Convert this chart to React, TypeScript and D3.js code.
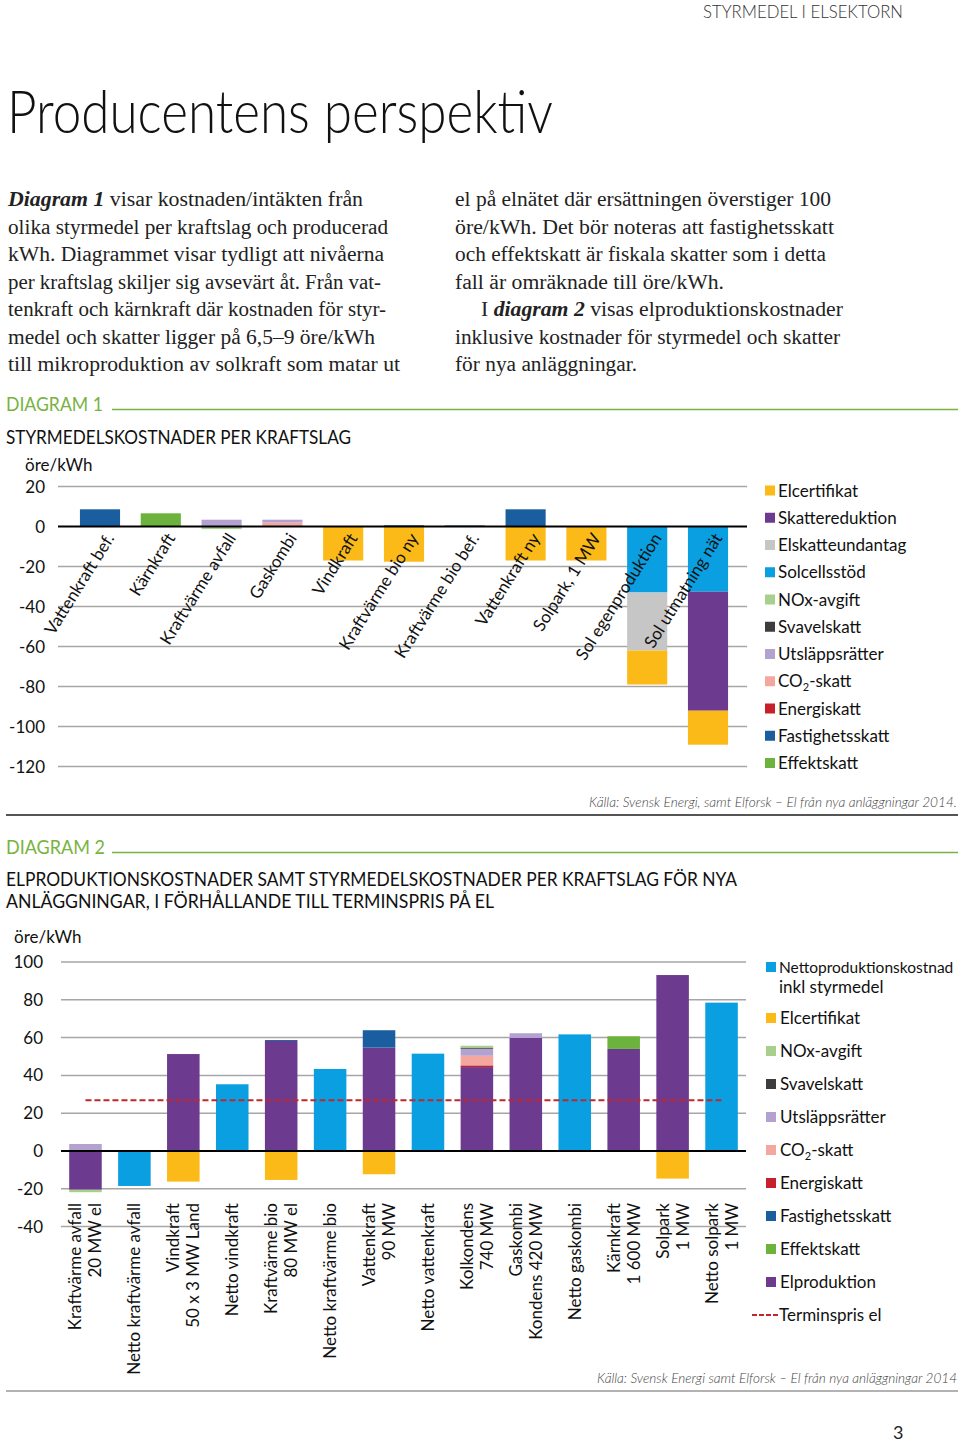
import React from "react";
import * as d3 from "d3";

const FONT = "Lato, 'Open Sans', sans-serif";
const SERIF = "'Liberation Serif', 'DejaVu Serif', serif";

// ---------- Diagram 1 data ----------
const d1Categories = [
  "Vattenkraft bef.",
  "Kärnkraft",
  "Kraftvärme avfall",
  "Gaskombi",
  "Vindkraft",
  "Kraftvärme bio ny",
  "Kraftvärme bio bef.",
  "Vattenkraft ny",
  "Solpark, 1 MW",
  "Sol egenproduktion",
  "Sol utmatning nät",
];
const d1Solcellsstod = [0, 0, 0, 0, 0, 0, 0, 0, 0, -33, -32.6];
const d1Skattereduktion = [0, 0, 0, 0, 0, 0, 0, 0, 0, 0, -59.5];
const d1Elskatteundantag = [0, 0, 0, 0, 0, 0, 0, 0, 0, -29, 0];
const d1Elcertifikat = [0, 0, 0, 0, -17, -17.6, 0, -17, -17, -17, -17];
const d1CO2skatt = [0, 0, 0, 2, 0, 0, 0, 0, 0, 0, 0];
const d1Utslappsratter = [0, 0, 3.4, 1.4, 0, 0, 0, 0, 0, 0, 0];
const d1NOx = [0, 0, -1.3, 0, 0, 0, 0, 0, 0, 0, 0];
const d1Svavelskatt = [0, 0, 0, 0, 0, 0, 0, 0, 0, 0, 0];
const d1Energiskatt = [0, 0, 0, 0, 0, 0, 0, 0, 0, 0, 0];
const d1Fastighetsskatt = [8.6, 0, 0, 0, 0, 0.6, 0.5, 8.6, 0, 0, 0];
const d1Effektskatt = [0, 6.6, 0, 0, 0, 0, 0, 0, 0, 0, 0];
const d1Ticks = [20, 0, -20, -40, -60, -80, -100, -120];

// ---------- Diagram 2 data ----------
const d2Categories = [
  ["Kraftvärme avfall", "20 MW el"],
  ["Netto kraftvärme avfall"],
  ["Vindkraft", "50 x 3 MW Land"],
  ["Netto vindkraft"],
  ["Kraftvärme bio", "80 MW el"],
  ["Netto kraftvärme bio"],
  ["Vattenkraft", "90 MW"],
  ["Netto vattenkraft"],
  ["Kolkondens", "740 MW"],
  ["Gaskombi", "Kondens 420 MW"],
  ["Netto gaskombi"],
  ["Kärnkraft", "1 600 MW"],
  ["Solpark", "1 MW"],
  ["Netto solpark", "1 MW"],
];
const d2Netto = [0, -18.5, 0, 35.3, 0, 43.4, 0, 51.5, 0, 0, 61.7, 0, 0, 78.5];
const d2Elproduktion = [-20.5, 0, 51.3, 0, 58.2, 0, 54.7, 0, 44.4, 59.8, 0, 54, 93.1, 0];
const d2Energiskatt = [0, 0, 0, 0, 0, 0, 0, 0, 0.9, 0, 0, 0, 0, 0];
const d2CO2skatt = [0, 0, 0, 0, 0, 0, 0, 0, 5.1, 0, 0, 0, 0, 0];
const d2Utslappsratter = [3.7, 0, 0, 0, 0, 0, 0, 0, 3.7, 2.5, 0, 0, 0, 0];
const d2Svavelskatt = [0, 0, 0, 0, 0, 0, 0, 0, 0.6, 0, 0, 0, 0, 0];
const d2NOx = [-1.3, 0, 0, 0, 0, 0, 0, 0, 1.0, 0, 0, 0, 0, 0];
const d2Fastighetsskatt = [0, 0, 0, 0, 0.5, 0, 9.2, 0, 0, 0, 0, 0, 0, 0];
const d2Effektskatt = [0, 0, 0, 0, 0, 0, 0, 0, 0, 0, 0, 6.7, 0, 0];
const d2Elcertifikat = [0, 0, -16.2, 0, -15.3, 0, -12.3, 0, 0, 0, 0, 0, -14.6, 0];
const d2Terminspris = 26.8;
const d2Ticks = [100, 80, 60, 40, 20, 0, -20, -40];

// ---------- colours ----------
const C = {
  Elcertifikat: "#fbba18",
  Skattereduktion: "#6c3b8f",
  Elskatteundantag: "#c6c6c6",
  Solcellsstod: "#0a9fe0",
  NOx: "#a8cf8c",
  Svavelskatt: "#3d3d3d",
  Utslappsratter: "#b3a2d0",
  CO2skatt: "#f3a79f",
  Energiskatt: "#c5202b",
  Fastighetsskatt: "#1a5ea0",
  Effektskatt: "#6bb33d",
  Elproduktion: "#6c3b8f",
  Netto: "#0a9fe0",
};

const d1Series = [
  { key: "Solcellsstod", values: d1Solcellsstod },
  { key: "Skattereduktion", values: d1Skattereduktion },
  { key: "Elskatteundantag", values: d1Elskatteundantag },
  { key: "Elcertifikat", values: d1Elcertifikat },
  { key: "CO2skatt", values: d1CO2skatt },
  { key: "Utslappsratter", values: d1Utslappsratter },
  { key: "NOx", values: d1NOx },
  { key: "Svavelskatt", values: d1Svavelskatt },
  { key: "Energiskatt", values: d1Energiskatt },
  { key: "Fastighetsskatt", values: d1Fastighetsskatt },
  { key: "Effektskatt", values: d1Effektskatt },
];

const d2Series = [
  { key: "Netto", values: d2Netto },
  { key: "Elproduktion", values: d2Elproduktion },
  { key: "Energiskatt", values: d2Energiskatt },
  { key: "CO2skatt", values: d2CO2skatt },
  { key: "Utslappsratter", values: d2Utslappsratter },
  { key: "Svavelskatt", values: d2Svavelskatt },
  { key: "NOx", values: d2NOx },
  { key: "Fastighetsskatt", values: d2Fastighetsskatt },
  { key: "Effektskatt", values: d2Effektskatt },
  { key: "Elcertifikat", values: d2Elcertifikat },
];

const d1Legend = [
  { key: "Elcertifikat", label: "Elcertifikat" },
  { key: "Skattereduktion", label: "Skattereduktion" },
  { key: "Elskatteundantag", label: "Elskatteundantag" },
  { key: "Solcellsstod", label: "Solcellsstöd" },
  { key: "NOx", label: "NOx-avgift" },
  { key: "Svavelskatt", label: "Svavelskatt" },
  { key: "Utslappsratter", label: "Utsläppsrätter" },
  { key: "CO2skatt", label: "CO2" },
  { key: "Energiskatt", label: "Energiskatt" },
  { key: "Fastighetsskatt", label: "Fastighetsskatt" },
  { key: "Effektskatt", label: "Effektskatt" },
];

const d2Legend = [
  { key: "Elcertifikat", label: "Elcertifikat" },
  { key: "NOx", label: "NOx-avgift" },
  { key: "Svavelskatt", label: "Svavelskatt" },
  { key: "Utslappsratter", label: "Utsläppsrätter" },
  { key: "CO2skatt", label: "CO2" },
  { key: "Energiskatt", label: "Energiskatt" },
  { key: "Fastighetsskatt", label: "Fastighetsskatt" },
  { key: "Effektskatt", label: "Effektskatt" },
  { key: "Elproduktion", label: "Elproduktion" },
];

const leftLines = [
  "olika styrmedel per kraftslag och producerad",
  "kWh. Diagrammet visar tydligt att nivåerna",
  "per kraftslag skiljer sig avsevärt åt. Från vat-",
  "tenkraft och kärnkraft där kostnaden för styr-",
  "medel och skatter ligger på 6,5–9 öre/kWh",
  "till mikroproduktion av solkraft som matar ut",
];
const leftWidths = [380, 376, 373, 378, 367, 392];
const rightLines = [
  "el på elnätet där ersättningen överstiger 100",
  "öre/kWh. Det bör noteras att fastighetsskatt",
  "och effektskatt är fiskala skatter som i detta",
  "fall är omräknade till öre/kWh.",
];
const rightWidths = [376, 379, 371, 269];

function build(series: { key: string; values: number[] }[], n: number) {
  const rows = d3.range(n).map((i) => {
    const o: Record<string, number> = {};
    series.forEach((s) => (o[s.key] = s.values[i]));
    return o;
  });
  return d3
    .stack<Record<string, number>>()
    .keys(series.map((s) => s.key))
    .offset(d3.stackOffsetDiverging)(rows);
}

function LegendLabel({ label }: { label: string }) {
  if (label === "CO2") {
    return (
      <>
        CO
        <tspan dy={4} fontSize={11}>2</tspan>
        <tspan dy={-4}>-skatt</tspan>
      </>
    );
  }
  return <>{label}</>;
}

export default function App() {
  // Diagram 1 scales
  const y1 = d3.scaleLinear().domain([-120, 20]).range([766.5, 486.5]);
  const x1 = d3
    .scaleBand<string>()
    .domain(d1Categories)
    .range([69.6, 738.4])
    .paddingInner(0.34)
    .paddingOuter(0.17);
  const st1 = build(d1Series, d1Categories.length);

  // Diagram 2 scales
  const y2 = d3.scaleLinear().domain([-40, 100]).range([1226.6, 962]);
  const d2Keys = d2Categories.map((c) => c.join(" "));
  const x2 = d3
    .scaleBand<string>()
    .domain(d2Keys)
    .range([61, 746])
    .paddingInner(0.335)
    .paddingOuter(0.1675);
  const st2 = build(d2Series, d2Categories.length);

  const green = "#78b342";

  return (
    <svg
      width={960}
      height={1442}
      style={{ position: "absolute", left: 0, top: 0, background: "#fff" }}
      fontFamily={FONT}
    >
      <rect x={0} y={0} width={960} height={1442} fill="#fff" />
      {/* header */}
      <text x={903} y={18} textAnchor="end" fontSize={18} fontWeight={300} fill="#333" textLength={200} lengthAdjust="spacingAndGlyphs">
        STYRMEDEL I ELSEKTORN
      </text>
      <text x={7} y={133} fontSize={60} fontWeight={300} fill="#111" textLength={546} lengthAdjust="spacingAndGlyphs">
        Producentens perspektiv
      </text>

      {/* body text */}
      <g fontFamily={SERIF} fontSize={20} fill="#222">
        <text x={8} y={206} textLength={355} lengthAdjust="spacingAndGlyphs">
          <tspan fontWeight="bold" fontStyle="italic">Diagram 1</tspan> visar kostnaden/intäkten från
        </text>
        {leftLines.map((l, i) => (
          <text key={i} x={8} y={233.5 + i * 27.5} textLength={leftWidths[i]} lengthAdjust="spacingAndGlyphs">
            {l}
          </text>
        ))}
        {rightLines.map((l, i) => (
          <text key={i} x={455} y={206 + i * 27.5} textLength={rightWidths[i]} lengthAdjust="spacingAndGlyphs">
            {l}
          </text>
        ))}
        <text x={481} y={206 + 4 * 27.5} textLength={362} lengthAdjust="spacingAndGlyphs">
          I <tspan fontWeight="bold" fontStyle="italic">diagram 2</tspan> visas elproduktionskostnader
        </text>
        <text x={455} y={206 + 5 * 27.5} textLength={385} lengthAdjust="spacingAndGlyphs">
          inklusive kostnader för styrmedel och skatter
        </text>
        <text x={455} y={206 + 6 * 27.5} textLength={182} lengthAdjust="spacingAndGlyphs">
          för nya anläggningar.
        </text>
      </g>

      {/* ================= DIAGRAM 1 ================= */}
      <text x={6} y={411} fontSize={19} fill={green} textLength={97} lengthAdjust="spacingAndGlyphs">
        DIAGRAM 1
      </text>
      <line x1={112} x2={958} y1={409.5} y2={409.5} stroke={green} strokeWidth={1.6} />
      <text x={6} y={444} fontSize={19} fill="#111" textLength={345} lengthAdjust="spacingAndGlyphs">
        STYRMEDELSKOSTNADER PER KRAFTSLAG
      </text>
      <text x={25} y={471} fontSize={17} fill="#111">öre/kWh</text>

      {d1Ticks.map((t) => (
        <g key={t}>
          {t !== 0 && <line x1={58} x2={747} y1={y1(t)} y2={y1(t)} stroke="#a6a6a6" strokeWidth={1.5} />}
          <text x={45} y={y1(t) + 6} textAnchor="end" fontSize={17} fill="#111">
            {t}
          </text>
        </g>
      ))}
      {st1.map((s) => (
        <g key={s.key} fill={(C as any)[s.key]}>
          {s.map((d, i) =>
            d[1] - d[0] !== 0 ? (
              <rect
                key={i}
                x={x1(d1Categories[i])}
                width={x1.bandwidth()}
                y={y1(Math.max(d[0], d[1]))}
                height={Math.abs(y1(d[0]) - y1(d[1]))}
              />
            ) : null
          )}
        </g>
      ))}
      <line x1={58} x2={747} y1={y1(0)} y2={y1(0)} stroke="#000" strokeWidth={2} />
      {d1Categories.map((c) => (
        <text
          key={c}
          transform={`translate(${(x1(c) as number) + x1.bandwidth() / 2 + 15},538) rotate(-58)`}
          textAnchor="end"
          fontSize={17}
          fill="#111"
        >
          {c}
        </text>
      ))}
      {d1Legend.map((l, i) => (
        <g key={l.key} transform={`translate(765,${490.5 + i * 27.25})`}>
          <rect x={0} y={-5} width={10} height={10} fill={(C as any)[l.key]} />
          <text x={13} y={6} fontSize={17} fill="#111">
            <LegendLabel label={l.label} />
          </text>
        </g>
      ))}
      <text x={957} y={807} textAnchor="end" fontSize={13} fontStyle="italic" fontWeight={300} fill="#444" textLength={368} lengthAdjust="spacingAndGlyphs">
        Källa: Svensk Energi, samt Elforsk – El från nya anläggningar 2014.
      </text>
      <line x1={6} x2={958} y1={815} y2={815} stroke="#555" strokeWidth={2} />

      {/* ================= DIAGRAM 2 ================= */}
      <text x={6} y={854} fontSize={19} fill={green} textLength={99} lengthAdjust="spacingAndGlyphs">
        DIAGRAM 2
      </text>
      <line x1={112} x2={958} y1={852.5} y2={852.5} stroke={green} strokeWidth={1.6} />
      <text x={6} y={886} fontSize={19} fill="#111" textLength={731} lengthAdjust="spacingAndGlyphs">
        ELPRODUKTIONSKOSTNADER SAMT STYRMEDELSKOSTNADER PER KRAFTSLAG FÖR NYA
      </text>
      <text x={6} y={908} fontSize={19} fill="#111" textLength={488} lengthAdjust="spacingAndGlyphs">
        ANLÄGGNINGAR, I FÖRHÅLLANDE TILL TERMINSPRIS PÅ EL
      </text>
      <text x={14} y={943} fontSize={17} fill="#111">öre/kWh</text>

      {d2Ticks.map((t) => (
        <g key={t}>
          {t !== 0 && <line x1={61} x2={746} y1={y2(t)} y2={y2(t)} stroke="#a6a6a6" strokeWidth={1.5} />}
          <text x={43} y={y2(t) + 6} textAnchor="end" fontSize={17} fill="#111">
            {t}
          </text>
        </g>
      ))}
      {st2.map((s) => (
        <g key={s.key} fill={(C as any)[s.key]}>
          {s.map((d, i) =>
            d[1] - d[0] !== 0 ? (
              <rect
                key={i}
                x={x2(d2Keys[i])}
                width={x2.bandwidth()}
                y={y2(Math.max(d[0], d[1]))}
                height={Math.abs(y2(d[0]) - y2(d[1]))}
              />
            ) : null
          )}
        </g>
      ))}
      <line x1={61} x2={746} y1={y2(0)} y2={y2(0)} stroke="#000" strokeWidth={2} />
      <line
        x1={(x2(d2Keys[0]) as number) + x2.bandwidth() / 2}
        x2={(x2(d2Keys[d2Keys.length - 1]) as number) + x2.bandwidth() / 2}
        y1={y2(d2Terminspris)}
        y2={y2(d2Terminspris)}
        stroke="#c0272d"
        strokeWidth={2}
        strokeDasharray="6,3"
      />
      {d2Categories.map((lines, i) => {
        const cx = (x2(d2Keys[i]) as number) + x2.bandwidth() / 2;
        const n = lines.length;
        return lines.map((l, j) => {
          const bx = cx + 6 + (j - (n - 1) / 2) * 20;
          return (
            <text key={i + "-" + j} transform={`translate(${bx},1203) rotate(-90)`} textAnchor="end" fontSize={17} fill="#111">
              {l}
            </text>
          );
        });
      })}

      {/* legend 2 */}
      <g>
        <rect x={766} y={962} width={10} height={10} fill={C.Netto} />
        <text x={779} y={973} fontSize={15.5} fill="#111">Nettoproduktionskostnad</text>
        <text x={779} y={993} fontSize={17} fill="#111">inkl styrmedel</text>
      </g>
      {d2Legend.map((l, i) => (
        <g key={l.key} transform={`translate(766,${1018 + i * 33})`}>
          <rect x={0} y={-5} width={10} height={10} fill={(C as any)[l.key]} />
          <text x={14} y={6} fontSize={17} fill="#111">
            <LegendLabel label={l.label} />
          </text>
        </g>
      ))}
      <line x1={752} x2={778} y1={1315} y2={1315} stroke="#c0272d" strokeWidth={2} strokeDasharray="5,2" />
      <text x={779} y={1321} fontSize={17} fill="#111">Terminspris el</text>

      <text x={957} y={1383} textAnchor="end" fontSize={13} fontStyle="italic" fontWeight={300} fill="#444" textLength={360} lengthAdjust="spacingAndGlyphs">
        Källa: Svensk Energi samt Elforsk – El från nya anläggningar 2014
      </text>
      <line x1={6} x2={958} y1={1391} y2={1391} stroke="#999" strokeWidth={1.5} />
      <text x={893} y={1439} fontSize={18} fill="#222">3</text>
    </svg>
  );
}
